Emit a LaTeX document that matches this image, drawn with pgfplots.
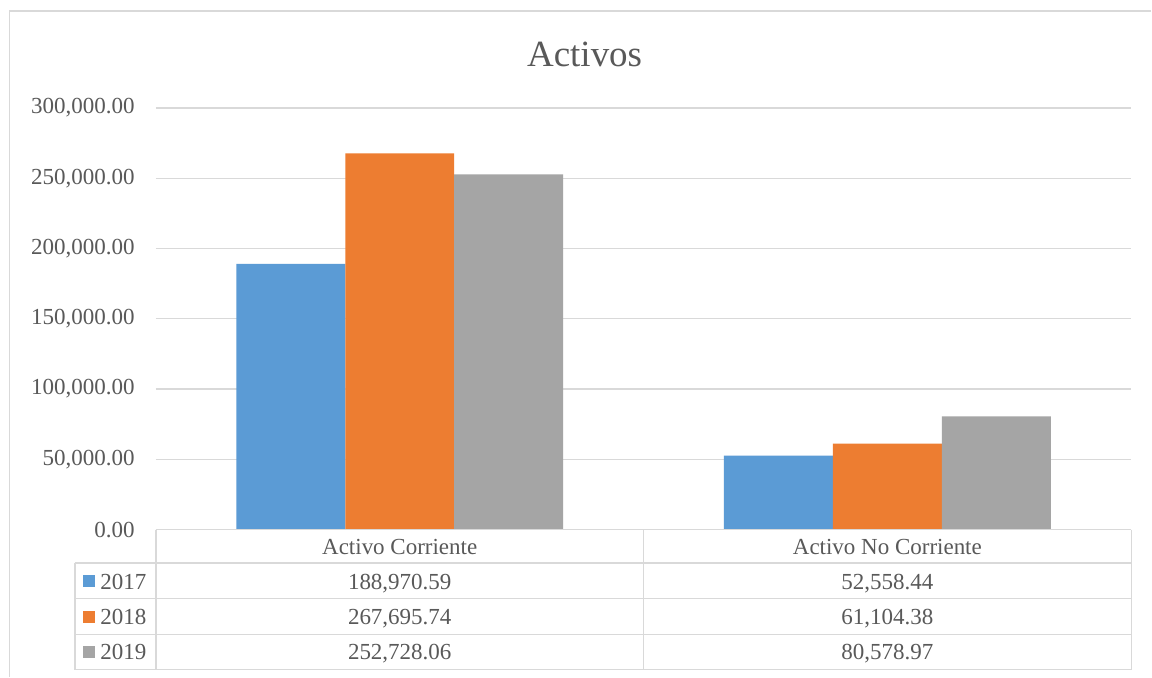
\documentclass[border=0pt]{standalone}
\usepackage{pgfplots}
\pgfplotsset{compat=1.18}
\usepackage{fontspec}
\setmainfont{Liberation Serif}
\definecolor{c17}{HTML}{5B9BD5}
\definecolor{c18}{HTML}{ED7D31}
\definecolor{c19}{HTML}{A5A5A5}
\definecolor{txt}{HTML}{595959}
\definecolor{gridc}{HTML}{D9D9D9}
\newcommand{\tf}{\fontsize{11.5}{13}\selectfont}
\begin{document}
\begin{tikzpicture}
\begin{scope}[x=0.5pt,y=-0.5pt,yshift=338.5pt]
\fill[white] (0,0) rectangle (1152,677);
\draw[gridc, line width=0.8pt] (9.5,677) -- (9.5,11) -- (1152,11);
\node[txt, font=\fontsize{18.5}{22}\selectfont, anchor=base, inner sep=0pt] at (585,67) {Activos};
\end{scope}
\begin{axis}[
  at={(78pt,73.5pt)}, anchor=south west,
  scale only axis, width=488pt, height=211pt,
  xmin=-0.5, xmax=1.5, ymin=0, ymax=300000,
  xtick={0,1}, xticklabels={Activo Corriente, Activo No Corriente},
  ytick={0,50000,100000,150000,200000,250000,300000},
  scaled y ticks=false,
  yticklabel style={/pgf/number format/fixed, /pgf/number format/fixed zerofill, /pgf/number format/precision=2, /pgf/number format/1000 sep={,}, /pgf/number format/assume math mode=true},
  yticklabel style={font=\tf, text=txt, anchor=east, inner sep=0pt, xshift=-10.5pt},
  xticklabel style={font=\tf, text=txt, anchor=base, inner sep=0pt, yshift=-12.5pt},
  major tick length=0pt,
  axis line style={draw=none},
  ymajorgrids, major grid style={gridc, line width=0.65pt},
  ybar, bar width=54.5pt,
  clip=false,
]
\addplot[fill=c17, draw=none, bar shift=-54.5pt] coordinates {(0,188970.59) (1,52558.44)};
\addplot[fill=c18, draw=none, bar shift=0pt] coordinates {(0,267695.74) (1,61104.38)};
\addplot[fill=c19, draw=none, bar shift=54.5pt] coordinates {(0,252728.06) (1,80578.97)};
\end{axis}
\begin{scope}[x=0.5pt,y=-0.5pt,yshift=338.5pt]
\begin{scope}[gridc, line width=0.65pt]
\draw (156,530) -- (1132,530);
\foreach \yy in {563.5,599,635,670} \draw (75,\yy) -- (1132,\yy);
\foreach \xx in {156,644,1132} \draw (\xx,530) -- (\xx,670);
\draw (75,563.5) -- (75,670);
\end{scope}
\fill[c17] (83,575) rectangle (95,587);
\fill[c18] (83,611) rectangle (95,623);
\fill[c19] (83,646.5) rectangle (95,658.5);
\begin{scope}[every node/.style={font=\tf, text=txt, inner sep=0pt}]
\node[anchor=base west] at (100,589.5) {2017};
\node[anchor=base west] at (100,625) {2018};
\node[anchor=base west] at (100,659.5) {2019};
\node[anchor=base] at (400,589.5) {188,970.59};
\node[anchor=base] at (400,625) {267,695.74};
\node[anchor=base] at (400,659.5) {252,728.06};
\node[anchor=base] at (888,589.5) {52,558.44};
\node[anchor=base] at (888,625) {61,104.38};
\node[anchor=base] at (888,659.5) {80,578.97};
\end{scope}
\end{scope}
\end{tikzpicture}
\end{document}
